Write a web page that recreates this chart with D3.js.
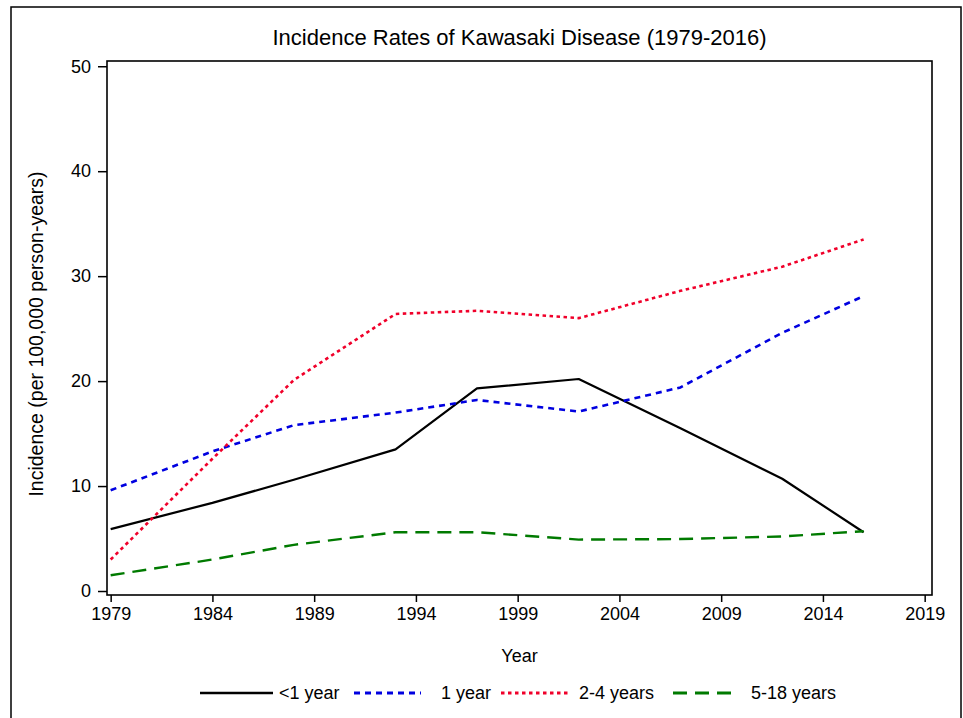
<!DOCTYPE html>
<html>
<head>
<meta charset="utf-8">
<script src="https://cdn.jsdelivr.net/npm/d3@7/dist/d3.min.js"></script>
<style>
  body { margin: 0; background: #fff; }
  svg { display: block; font-family: "Liberation Sans", Arial, sans-serif; }
</style>
</head>
<body>
<div id="chart"></div>
<script>
// values
const years = [1979, 1984, 1988, 1993, 1997, 2002, 2007, 2012, 2016]
const under1 = [5.9, 8.4, 10.6, 13.5, 19.3, 20.2, 15.5, 10.7, 5.6]
const age1 = [9.6, 13.3, 15.8, 17.0, 18.2, 17.1, 19.4, 24.6, 28.1]
const age2to4 = [3.0, 12.6, 20.1, 26.4, 26.7, 26.0, 28.6, 30.9, 33.5]
const age5to18 = [1.5, 3.0, 4.4, 5.6, 5.6, 4.9, 4.95, 5.2, 5.7]

const xTicks = [1979, 1984, 1989, 1994, 1999, 2004, 2009, 2014, 2019]
const yTicks = [0, 10, 20, 30, 40, 50]
const seriesNames = [`<1 year`, `1 year`, `2-4 years`, `5-18 years`]

const width = 963, height = 718
const frame = { left: 107, right: 932, top: 61, bottom: 595 }

const styles = [
    { color: `#000`, dash: ``, w: 2.2 },
    { color: `#0000e0`, dash: `6,5`, w: 2.6 },
    { color: `#f0002a`, dash: `3.5,3.5`, w: 2.6 },
    { color: `#007a00`, dash: `14,8`, w: 2.4 }
]

const series = [under1, age1, age2to4, age5to18].map((vals, i) => ({
    name: seriesNames[i],
    values: years.map((y, j) => [y, vals[j]])
}))

const x = d3.scaleLinear().domain([1978.82, 2019.36]).range([frame.left, frame.right])
const y = d3.scaleLinear().domain([-0.38, 50.5]).range([frame.bottom, frame.top])

const svg = d3.select(`#chart`).append(`svg`).attr(`width`, width).attr(`height`, height)

// outer border
svg.append(`rect`).attr(`x`, 11).attr(`y`, 7).attr(`width`, 950).attr(`height`, 730)
    .attr(`fill`, `none`).attr(`stroke`, `#000`).attr(`stroke-width`, 1.5)

svg.append(`text`).attr(`x`, (frame.left + frame.right) / 2).attr(`y`, 45)
    .attr(`text-anchor`, `middle`).attr(`font-size`, 22).text(`Incidence Rates of Kawasaki Disease (1979-2016)`)

// axes
const xAxis = d3.axisBottom(x).tickValues(xTicks).tickFormat(d3.format(`d`)).tickSize(7).tickPadding(5)
const gx = svg.append(`g`).attr(`transform`, `translate(0,${frame.bottom})`).call(xAxis)
gx.select(`.domain`).remove()
gx.selectAll(`text`).attr(`font-size`, 18).attr(`font-family`, null).attr(`fill`, `#000`)
gx.selectAll(`line`).attr(`stroke-width`, 1.5)

const yAxis = d3.axisLeft(y).tickValues(yTicks).tickSize(9).tickPadding(7)
const gy = svg.append(`g`).attr(`transform`, `translate(${frame.left},0)`).call(yAxis)
gy.select(`.domain`).remove()
gy.selectAll(`text`).attr(`font-size`, 18).attr(`font-family`, null).attr(`fill`, `#000`)
gy.selectAll(`line`).attr(`stroke-width`, 1.5)

svg.append(`rect`).attr(`x`, frame.left).attr(`y`, frame.top)
    .attr(`width`, frame.right - frame.left).attr(`height`, frame.bottom - frame.top)
    .attr(`fill`, `none`).attr(`stroke`, `#000`).attr(`stroke-width`, 1.6)

svg.append(`text`).attr(`x`, (frame.left + frame.right) / 2).attr(`y`, 662)
    .attr(`text-anchor`, `middle`).attr(`font-size`, 18).text(`Year`)

svg.append(`text`).attr(`transform`, `translate(43,334) rotate(-90)`)
    .attr(`text-anchor`, `middle`).attr(`font-size`, 19.5).text(`Incidence (per 100,000 person-years)`)

// lines
const line = d3.line().x(d => x(d[0])).y(d => y(d[1]))
series.forEach((s, i) => {
    svg.append(`path`).attr(`d`, line(s.values)).attr(`fill`, `none`)
        .attr(`stroke`, styles[i].color).attr(`stroke-width`, styles[i].w)
        .attr(`stroke-dasharray`, styles[i].dash).attr(`stroke-linejoin`, `round`)
})

// legend
const legendPos = [[200, 273, 279], [354, 421, 441], [501, 569, 579], [673, 736, 751]]
series.forEach((s, i) => {
    const p = legendPos[i]
    svg.append(`line`).attr(`x1`, p[0]).attr(`x2`, p[1]).attr(`y1`, 693).attr(`y2`, 693)
        .attr(`stroke`, styles[i].color).attr(`stroke-width`, styles[i].w + 0.4)
        .attr(`stroke-dasharray`, styles[i].dash)
    svg.append(`text`).attr(`x`, p[2]).attr(`y`, 699).attr(`font-size`, 18).text(s.name)
})
</script>
</body>
</html>
